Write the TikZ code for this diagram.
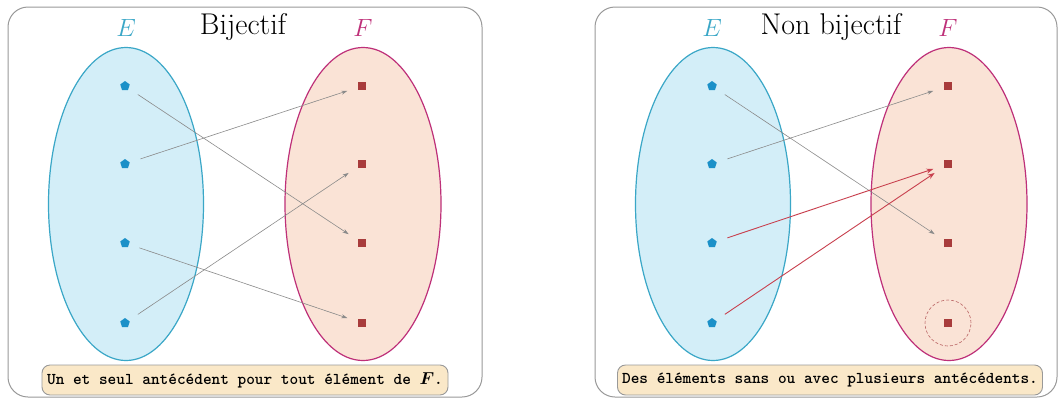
\documentclass[tikz,border=0pt]{standalone}
\usepackage{amsmath}
\usetikzlibrary{shapes.geometric,arrows.meta}
\definecolor{ecol}{HTML}{3AA7C7}
\definecolor{efill}{HTML}{D3EEF8}
\definecolor{fcol}{HTML}{BE3079}
\definecolor{ffill}{HTML}{FAE3D6}
\definecolor{dotcol}{HTML}{1B90C8}
\definecolor{sqcol}{HTML}{A83C3C}
\definecolor{capfill}{HTML}{FAE8C8}
\definecolor{arrcol}{HTML}{8A8A8A}
\definecolor{redarr}{HTML}{C8404E}
\tikzset{
  panel/.style={draw=black!40, line width=1pt, rounded corners=20pt, fill=white},
  setE/.style={draw=ecol, fill=efill, line width=1.2pt, ellipse, minimum width=155pt, minimum height=313pt, inner sep=0pt},
  setF/.style={draw=fcol, fill=ffill, line width=1.2pt, ellipse, minimum width=156pt, minimum height=313pt, inner sep=0pt},
  edot/.style={regular polygon, regular polygon sides=5, fill=dotcol, minimum size=10pt, inner sep=0pt},
  fsq/.style={rectangle, fill=sqcol, minimum size=8pt, inner sep=0pt},
  maparr/.style={draw=arrcol, line width=0.6pt, -{Stealth[length=6pt,width=4pt]}, shorten <=11pt, shorten >=11pt},
  redmap/.style={draw=redarr, line width=0.9pt, -{Stealth[length=7pt,width=5pt]}, shorten <=11pt, shorten >=11pt},
  caption/.style={draw=black!40, line width=0.9pt, fill=capfill, rounded corners=8pt, inner sep=0pt, font=\ttfamily\bfseries\fontsize{16.5}{18}\selectfont},
  title/.style={font=\fontsize{30}{33}\selectfont, inner sep=0pt},
  lblE/.style={font=\fontsize{29}{32}\selectfont, text=ecol, inner sep=0pt},
  lblF/.style={font=\fontsize{29}{32}\selectfont, text=fcol, inner sep=0pt},
  miss/.style={draw=sqcol!80, densely dashed, line width=0.6pt, circle, minimum size=46pt, inner sep=0pt}
}
\begin{document}
\begin{tikzpicture}[x=1pt,y=-1pt]
\useasboundingbox (0,0) rectangle (1061,400);
% ---------- left panel ----------
\node[panel, minimum width=474pt, minimum height=390pt] (P1) at (245,202) {};
\node[setE] (E1) at (126,204) {};
\node[setF] (F1) at (363,204) {};
\node[lblE] (le1) at (126,28) {$E$};
\node[title] (t1) at (243,27) {Bijectif};
\node[lblF] (lf1) at (363,28) {$F$};
\foreach \i/\y in {1/86,2/164,3/243,4/323}{
  \node[edot] (a\i) at (125,\y) {};
  \node[fsq] (b\i) at (362,\y) {};
}
\draw[maparr] (a1) -- (b3);
\draw[maparr] (a2) -- (b1);
\draw[maparr] (a3) -- (b4);
\draw[maparr] (a4) -- (b2);
\node[caption, minimum width=406pt, minimum height=30pt] (c1) at (245,380) {Un et seul antécédent pour tout élément de $\boldsymbol{F}$.};
% ---------- right panel ----------
\node[panel, minimum width=462pt, minimum height=390pt] (P2) at (826,202) {};
\node[setE] (E2) at (713,204) {};
\node[setF] (F2) at (949,204) {};
\node[lblE] (le2) at (712,28) {$E$};
\node[title] (t2) at (831,27) {Non bijectif};
\node[lblF] (lf2) at (948,28) {$F$};
\foreach \i/\y in {1/86,2/164,3/243,4/323}{
  \node[edot] (c\i) at (712,\y) {};
  \node[fsq] (d\i) at (948,\y) {};
}
\draw[maparr] (c1) -- (d3);
\draw[maparr] (c2) -- (d1);
\draw[redmap] (c3) -- (d2);
\draw[redmap] (c4) -- (d2);
\node[miss] (m) at (d4) {};
\node[caption, minimum width=425pt, minimum height=30pt] (c2box) at (830,380) {Des éléments sans ou avec plusieurs antécédents.};
\end{tikzpicture}
\end{document}
